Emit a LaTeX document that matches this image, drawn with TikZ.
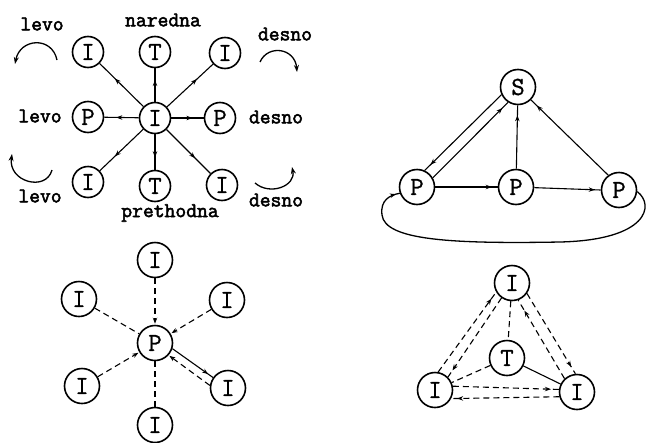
\documentclass[tikz,border=0pt]{standalone}
\usepackage{fontspec}
\newfontfamily\nodefont{Latin Modern Mono}[FakeBold=1]
\newfontfamily\labfont{Latin Modern Mono}[FakeBold=2.5]
\usetikzlibrary{arrows.meta,decorations.markings}
\tikzset{
  st/.style={circle,draw,line width=1.6pt,minimum size=31pt,inner sep=0pt,font=\nodefont\fontsize{26}{26}\selectfont},
  stb/.style={st,minimum size=35pt},
  lab/.style={font=\labfont\fontsize{21}{21}\selectfont,inner sep=0pt},
  con/.style={line width=1.1pt},
  dsh/.style={con,dash pattern=on 6pt off 4pt},
  headat/.style={decoration={markings,mark=at position #1 with {\arrow{Stealth[length=6pt,width=4.5pt]}}},postaction={decorate}},
  endhead/.style={-{Stealth[length=6pt,width=4.5pt]},shorten >=1pt},
  turn/.style={line width=1.3pt,-{Stealth[length=7pt,width=5pt]}}
}
\begin{document}
\begin{tikzpicture}[x=1pt,y=-1pt]
\useasboundingbox (0,0) rectangle (650,442);
% ---------- top-left ----------
\node[st] (c) at (155,118) {I};
\node[st] (n) at (155,52) {T};
\node[st] (nl) at (88,52) {I};
\node[st] (nr) at (225,53) {I};
\node[st] (l) at (88,117) {P};
\node[st] (r) at (220,118) {P};
\node[st] (sl) at (88,182) {I};
\node[st] (s) at (155,186) {T};
\node[st] (sr) at (222,185) {I};
\foreach \t in {n,nl,nr,l,r,sl,s,sr}
  \draw[con,headat=0.65] (c) -- (\t);
\node[lab] (t1) at (42,24) {levo};
\node[lab] (t2) at (163,20) {naredna};
\node[lab] (t3) at (285,34) {desno};
\node[lab] (t4) at (40,116) {levo};
\node[lab] (t5) at (276,117) {desno};
\node[lab] (t6) at (40,196) {levo};
\node[lab] (t7) at (170,213) {prethodna};
\node[lab] (t8) at (276,200) {desno};
\coordinate (a1) at (57,60); \coordinate (a2) at (15,64);
\coordinate (b1) at (260,62); \coordinate (b2) at (297,72);
\coordinate (c1) at (52,170); \coordinate (c2) at (12,154);
\coordinate (d1) at (255,183); \coordinate (d2) at (292,167);
\draw[turn] (a1) .. controls (52,36) and (20,38) .. (a2);
\draw[turn] (b1) .. controls (268,44) and (295,48) .. (b2);
\draw[turn] (c1) .. controls (46,192) and (8,182) .. (c2);
\draw[turn] (d1) .. controls (270,196) and (296,186) .. (d2);
% ---------- bottom-left ----------
\node[stb] (p) at (155,343) {P};
\node[stb] (i1) at (155,260) {I};
\node[stb] (i2) at (79,299) {I};
\node[stb] (i3) at (227,300) {I};
\node[stb] (i4) at (82,386) {I};
\node[stb] (i5) at (228,388) {I};
\node[stb] (i6) at (155,425) {I};
\draw[dsh,endhead] (i1) -- (p);
\draw[dsh] (i2) -- (p);
\draw[dsh,endhead] (i3) -- (p);
\draw[dsh,endhead] (i4) -- (p);
\draw[dsh] (i6) -- (p);
\draw[con,headat=-6pt] (p.-18) -- (i5.145);
\draw[dsh,endhead] (i5.172) -- (p.-42);
% ---------- top-right ----------
\node[stb] (S) at (518,87) {S};
\node[stb] (lP) at (417,187) {P};
\node[stb] (mP) at (516,187) {P};
\node[stb] (rP) at (619,190) {P};
\draw[con,headat=-8pt] (S.205) -- (lP.65);
\draw[con,headat=-8pt] (lP.30) -- (S.237);
\draw[con,headat=-10pt] (mP) -- (S);
\draw[con,headat=-8pt] (rP.126) -- (S.-45);
\draw[con,headat=-6pt] (lP) -- (mP);
\draw[con,headat=-6pt] (mP) -- (rP.180);
\draw[con,line width=1.3pt,headat=-4pt] (rP.-5) .. controls (655,205) and (648,240) .. (560,242)
  .. controls (450,244) and (385,240) .. (382,215) .. controls (380,200) and (390,195) .. (lP.200);
% ---------- bottom-right ----------
\node[stb] (tI) at (512,283) {I};
\node[stb] (T) at (507,358) {T};
\node[stb] (lI) at (435,390) {I};
\node[stb] (rI) at (577,392) {I};
\draw[dsh] (tI) -- (T);
\draw[dsh] (T) -- (lI);
\draw[con] (T) -- (rI);
\draw[dsh,headat=-8pt] (lI.80) -- (tI.210);
\draw[dsh,headat=-8pt] (tI.235) -- (lI.45);
\draw[dsh,headat=-8pt] (tI.-35) -- (rI.95);
\draw[dsh,headat=-12pt] (rI.133) -- (tI.-70);
\draw[dsh,headat=-8pt] (lI.12) -- (rI.172);
\draw[dsh,headat=-6pt] (rI.-165) -- (lI.-28);
\end{tikzpicture}
\end{document}
